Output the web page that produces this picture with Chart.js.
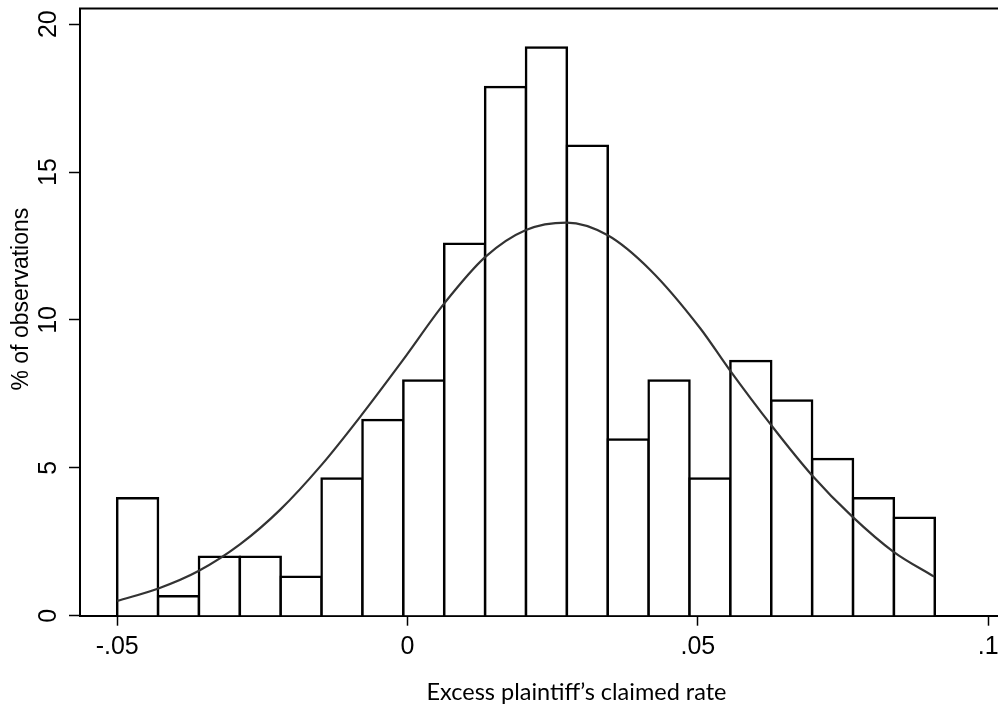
<!DOCTYPE html>
<html>
<head>
<meta charset="utf-8">
<script src="https://cdn.jsdelivr.net/npm/chart.js@4/dist/chart.umd.min.js"></script>
<style>
html, body { margin: 0; padding: 0; background: #ffffff; overflow: hidden; }
#wrap { width: 1073px; height: 708px; }
</style>
</head>
<body>
<div id="wrap"><canvas id="c" width="1073" height="708"></canvas></div>
<script>
// ---- data ----
const binCenters = [-0.04648, -0.03944, -0.0324, -0.02536, -0.01832, -0.01128, -0.00424, 0.0028, 0.00984, 0.01688,
                    0.02392, 0.03096, 0.038, 0.04504, 0.05208, 0.05912, 0.06616, 0.0732, 0.08024, 0.08728];
const percentObs = [3.97, 0.66, 1.99, 1.99, 1.32, 4.64, 6.62, 7.95, 12.58, 17.88,
                    19.21, 15.89, 5.96, 7.95, 4.64, 8.61, 7.28, 5.30, 3.97, 3.31];
const curveX = [-0.05, -0.0429, -0.0360, -0.0288, -0.0220, -0.0148, -0.0079, -0.0008, 0.0063, 0.0134,
                0.0204, 0.0274, 0.0344, 0.0418, 0.0504, 0.0554, 0.0626, 0.0696, 0.0766, 0.0837, 0.0907];
const curveY = [0.50, 0.92, 1.51, 2.42, 3.57, 5.10, 6.79, 8.64, 10.55, 12.13,
                13.04, 13.29, 12.87, 11.69, 9.72, 8.33, 6.45, 4.76, 3.35, 2.16, 1.32];
const xTickValues = [-0.05, 0, 0.05, 0.1];
const xTickLabels = ['-.05', '0', '.05', '.1'];
const yTickValues = [0, 5, 10, 15, 20];
const yTickLabels = ['0', '5', '10', '15', '20'];
const xTitle = 'Excess plaintiff\u2019s claimed rate';
const yTitle = '% of observations';

const barData = binCenters.map((x, i) => ({ x: x, y: percentObs[i] }));
const lineData = curveX.map((x, i) => ({ x: x, y: curveY[i] }));

const frameAndTitle = {
  id: 'frameAndTitle',
  afterDraw(chart) {
    const { ctx, chartArea: a } = chart;
    ctx.save();
    ctx.strokeStyle = '#000';
    ctx.lineWidth = 2;
    ctx.beginPath();
    ctx.moveTo(a.left - 1, a.top);
    ctx.lineTo(a.right, a.top);
    ctx.stroke();
    // y-axis title
    ctx.translate(22, (a.top + a.bottom) / 2 - 13);
    ctx.rotate(-Math.PI / 2);
    ctx.fillStyle = '#000';
    ctx.font = '23px "Liberation Sans", Arial, sans-serif';
    ctx.textAlign = 'center';
    ctx.textBaseline = 'middle';
    ctx.fillText(yTitle, 0, 0);
    ctx.restore();
  }
};

new Chart(document.getElementById('c'), {
  type: 'bar',
  data: {
    datasets: [
      {
        type: 'line',
        data: lineData,
        borderColor: '#333333',
        borderWidth: 2.2,
        pointRadius: 0,
        fill: false,
        cubicInterpolationMode: 'monotone',
        order: 1
      },
      {
        type: 'bar',
        data: barData,
        backgroundColor: '#ffffff',
        borderColor: '#000000',
        borderWidth: 2.5,
        inflateAmount: 1.25,
        barPercentage: 1,
        categoryPercentage: 1,
        order: 2
      }
    ]
  },
  options: {
    responsive: false,
    animation: false,
    devicePixelRatio: 1,
    layout: { padding: { top: 8.5, left: 0, right: 0, bottom: 0 } },
    plugins: { legend: { display: false }, tooltip: { enabled: false } },
    scales: {
      x: {
        type: 'linear',
        offset: false,
        min: -0.0564,
        max: 0.1146,
        z: 1,
        afterBuildTicks(scale) { scale.ticks = xTickValues.map(v => ({ value: v })); },
        afterFit(scale) { scale.height = 92.3; scale.paddingLeft = 0; scale.paddingRight = 0; },
        grid: { offset: false, drawOnChartArea: false, drawTicks: true, tickLength: 10, tickColor: '#000', tickWidth: 1.5 },
        border: { display: true, color: '#000', width: 2 },
        ticks: {
          autoSkip: false, maxRotation: 0, minRotation: 0, padding: 6,
          color: '#000',
          font: { family: '"Liberation Sans", Arial, sans-serif', size: 25 },
          callback: (v, i) => xTickLabels[i]
        },
        title: {
          display: true, text: xTitle, color: '#000',
          font: { family: 'Lato, "Open Sans", sans-serif', size: 23.5 },
          padding: { top: 0, bottom: 1 }
        }
      },
      y: {
        type: 'linear',
        min: 0,
        max: 20.53,
        z: 1,
        afterBuildTicks(scale) { scale.ticks = yTickValues.map(v => ({ value: v })); },
        afterFit(scale) { scale.width = 80; scale.paddingTop = 0; scale.paddingBottom = 0; },
        grid: { offset: false, drawOnChartArea: false, drawTicks: true, tickLength: 11, tickColor: '#000', tickWidth: 1.5 },
        border: { display: true, color: '#000', width: 2 },
        ticks: {
          minRotation: 90, maxRotation: 90, crossAlign: 'center', padding: 6,
          color: '#000',
          font: { family: '"Liberation Sans", Arial, sans-serif', size: 25 },
          callback: (v, i) => yTickLabels[i]
        },
        title: { display: false }
      }
    }
  },
  plugins: [frameAndTitle]
});
</script>
</body>
</html>
